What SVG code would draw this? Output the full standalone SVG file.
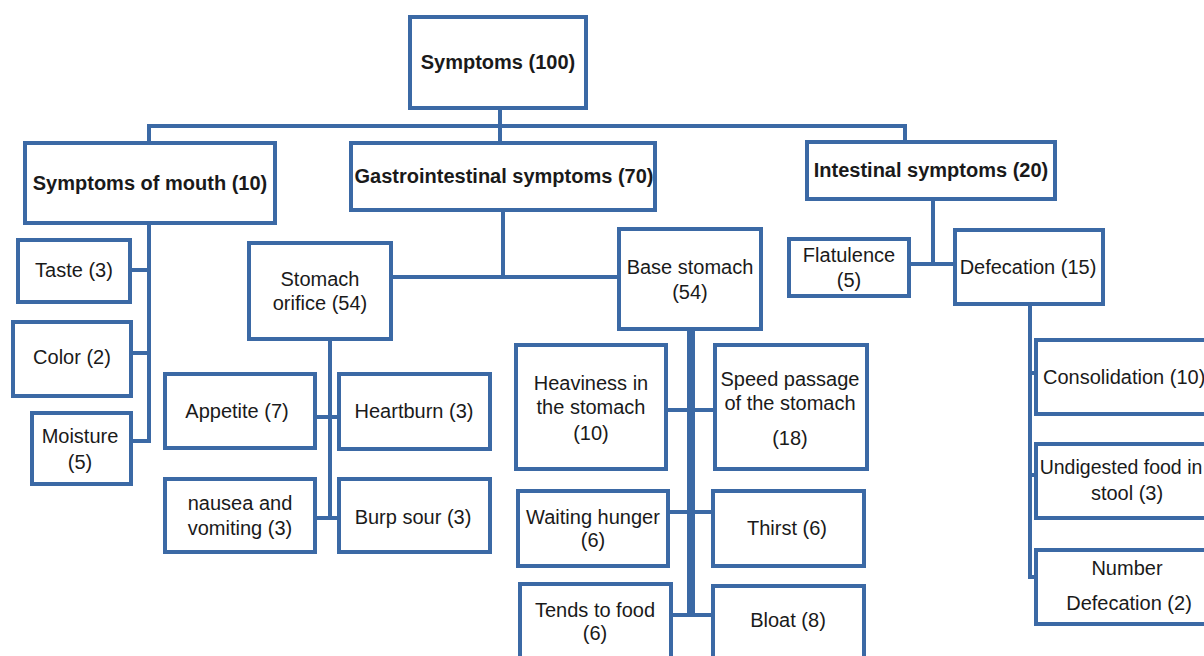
<svg xmlns="http://www.w3.org/2000/svg" width="1204" height="656" viewBox="0 0 1204 656">
<style>
.box{fill:#ffffff;stroke:#3b69a5;stroke-width:4}
.ln{fill:none;stroke:#3b69a5;stroke-width:4;stroke-linecap:square}
.thick{fill:none;stroke:#3b69a5;stroke-width:8}
text{font-family:"Liberation Sans",Arial,sans-serif;font-size:20px;fill:#1a1a1a;text-anchor:middle}
.b{font-weight:bold}
.st{text-anchor:start}
</style>
<rect width="1204" height="656" fill="#ffffff"/>
<g id="connectors">
<path class="ln" d="M500,108V126M149,126H905M149,126V143M500,126V143M905,126V142"/>
<path class="ln" d="M149,223V441M130,270H149M131,353H149M131,441H149"/>
<path class="ln" d="M503,210V277M391,277H619"/>
<path class="ln" d="M330,339V518M315,417H339M315,518H339"/>
<path class="thick" d="M691,329V615"/>
<path class="ln" d="M666,410H715M668,512H713M671,615H713"/>
<path class="ln" d="M933,199V264M909,264H955"/>
<path class="ln" d="M1030,304V577M1030,373H1036M1030,475H1036M1030,577H1036"/>
</g>
<g id="root"><rect class="box" x="410" y="17" width="176" height="91"/><text class="b" x="498" y="69">Symptoms (100)</text></g>
<g id="mouth"><rect class="box" x="25" y="143" width="250" height="80"/><text class="b" x="150" y="190">Symptoms of mouth (10)</text></g>
<g id="gastro"><rect class="box" x="351" y="143" width="304" height="67"/><text class="b" x="504" y="183">Gastrointestinal symptoms (70)</text></g>
<g id="intestinal"><rect class="box" x="807" y="142" width="248" height="57"/><text class="b" x="931" y="177">Intestinal symptoms (20)</text></g>
<g id="taste"><rect class="box" x="18" y="240" width="112" height="62"/><text x="74" y="277">Taste (3)</text></g>
<g id="color"><rect class="box" x="13" y="322" width="118" height="74"/><text x="72" y="364">Color (2)</text></g>
<g id="moisture"><rect class="box" x="32" y="413" width="99" height="71"/><text x="80" y="443">Moisture</text><text x="80" y="469">(5)</text></g>
<g id="orifice"><rect class="box" x="249" y="243" width="142" height="96"/><text x="320" y="286">Stomach</text><text x="320" y="310">orifice (54)</text></g>
<g id="appetite"><rect class="box" x="165" y="374" width="150" height="74"/><text x="237" y="418">Appetite (7)</text></g>
<g id="heartburn"><rect class="box" x="339" y="374" width="151" height="75"/><text x="414" y="418">Heartburn (3)</text></g>
<g id="nausea"><rect class="box" x="165" y="479" width="150" height="73"/><text x="240" y="510">nausea and</text><text x="240" y="535">vomiting (3)</text></g>
<g id="burp"><rect class="box" x="339" y="479" width="151" height="73"/><text x="413" y="524">Burp sour (3)</text></g>
<g id="base"><rect class="box" x="619" y="229" width="142" height="100"/><text x="690" y="274">Base stomach</text><text x="690" y="299">(54)</text></g>
<g id="heaviness"><rect class="box" x="516" y="345" width="150" height="124"/><text x="591" y="390">Heaviness in</text><text x="591" y="414">the stomach</text><text x="591" y="440">(10)</text></g>
<g id="speed"><rect class="box" x="715" y="345" width="152" height="124"/><text x="790" y="386">Speed passage</text><text x="790" y="410">of the stomach</text><text x="790" y="445">(18)</text></g>
<g id="waiting"><rect class="box" x="518" y="491" width="150" height="75"/><text x="593" y="524">Waiting hunger</text><text x="593" y="547">(6)</text></g>
<g id="thirst"><rect class="box" x="713" y="491" width="151" height="75"/><text x="787" y="535">Thirst (6)</text></g>
<g id="tends"><rect class="box" x="520" y="584" width="151" height="90"/><text x="595" y="617">Tends to food</text><text x="595" y="640">(6)</text></g>
<g id="bloat"><rect class="box" x="713" y="586" width="151" height="90"/><text x="788" y="627">Bloat (8)</text></g>
<g id="flatulence"><rect class="box" x="789" y="239" width="120" height="57"/><text x="849" y="262">Flatulence</text><text x="849" y="287">(5)</text></g>
<g id="defecation"><rect class="box" x="955" y="230" width="148" height="74"/><text x="1028" y="274">Defecation (15)</text></g>
<g id="consolidation"><rect class="box" x="1036" y="340" width="194" height="74"/><text class="st" x="1043" y="384">Consolidation (10)</text></g>
<g id="undigested"><rect class="box" x="1036" y="444" width="194" height="74"/><text x="1121" y="474" style="font-size:19.5px">Undigested food in</text><text x="1127" y="500">stool (3)</text></g>
<g id="number"><rect class="box" x="1036" y="550" width="194" height="74"/><text x="1127" y="575">Number</text><text x="1129" y="610">Defecation (2)</text></g>
</svg>
